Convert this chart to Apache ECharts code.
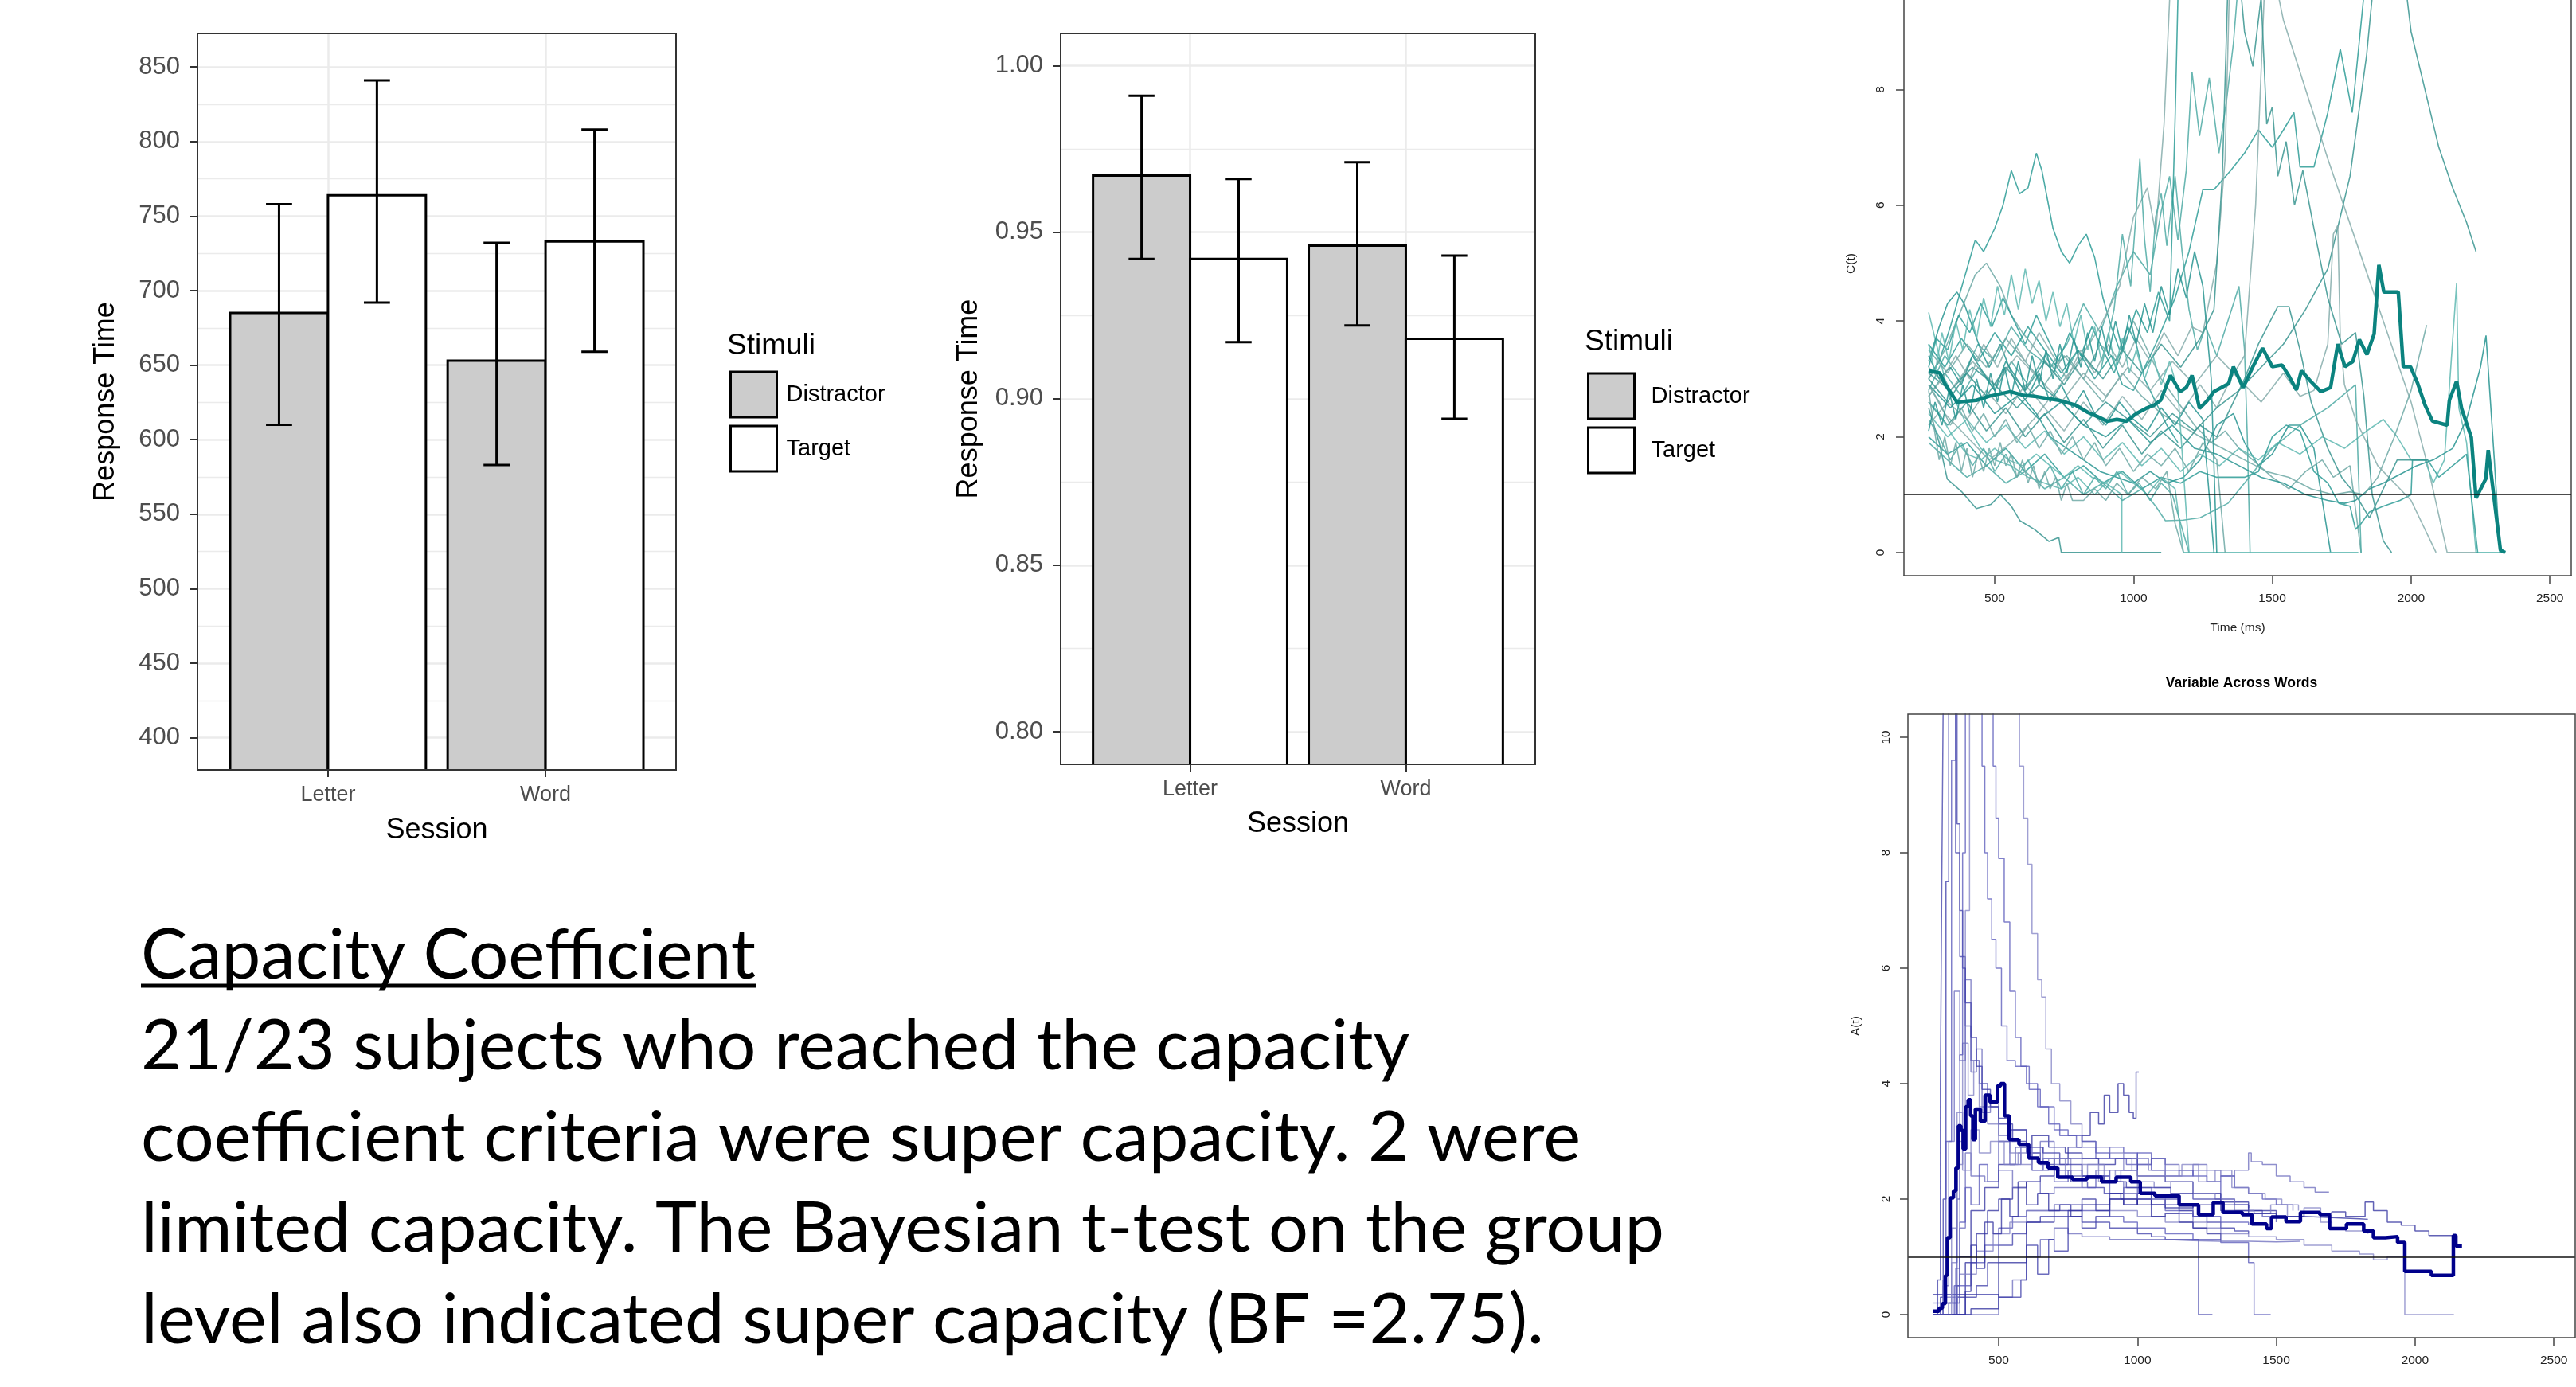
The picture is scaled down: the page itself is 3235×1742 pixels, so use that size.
<!DOCTYPE html>
<html><head><meta charset="utf-8">
<script src="https://cdn.jsdelivr.net/npm/echarts@6/dist/echarts.min.js"></script>
<style>html,body{margin:0;padding:0;background:#fff;}#c{width:3235px;height:1742px;}</style>
</head><body><div id="c"></div><script>
// ---------------- DATA ----------------
const sessions = ['Letter', 'Word'];
const stimuli = ['Distractor', 'Target'];
// chart 1 (Response Time, ms)
const rtDistractorMean = [685, 653];
const rtDistractorLow = [610, 583];
const rtDistractorHigh = [758, 732];
const rtTargetMean = [764, 733];
const rtTargetLow = [692, 659];
const rtTargetHigh = [841, 808];
const rtTicks = [400, 450, 500, 550, 600, 650, 700, 750, 800, 850];
// chart 2 (Response Time, proportion)
const accDistractorMean = [0.967, 0.946];
const accDistractorLow = [0.942, 0.922];
const accDistractorHigh = [0.991, 0.971];
const accTargetMean = [0.942, 0.918];
const accTargetLow = [0.917, 0.894];
const accTargetHigh = [0.966, 0.943];
const accTicks = [0.80, 0.85, 0.90, 0.95, 1.00];
// line charts
const timeTicks = [500, 1000, 1500, 2000, 2500];
const ratioTicks = [0, 2, 4, 6, 8, 10];
const referenceLevel = 1;

// C(t): group mean and individual subjects
const capMean = [[262,3.14],[302,3.10],[320,2.92],[364,2.60],[434,2.63],[480,2.70],[556,2.78],[600,2.72],[643,2.70],[690,2.66],[731,2.63],[790,2.55],[836,2.42],[870,2.35],[905,2.27],[940,2.30],[975,2.27],[1010,2.40],[1045,2.49],[1075,2.55],[1098,2.63],[1133,3.06],[1168,2.78],[1190,2.85],[1211,3.06],[1238,2.49],[1265,2.62],[1290,2.78],[1343,2.92],[1360,3.21],[1395,2.85],[1430,3.21],[1465,3.53],[1500,3.21],[1535,3.24],[1560,3.05],[1587,2.81],[1605,3.14],[1640,2.95],[1675,2.78],[1710,2.85],[1736,3.60],[1762,3.21],[1790,3.30],[1814,3.68],[1841,3.42],[1867,3.78],[1884,4.97],[1902,4.50],[1954,4.50],[1972,3.21],[1998,3.21],[2024,2.92],[2050,2.55],[2077,2.27],[2130,2.20],[2138,2.63],[2164,2.96],[2182,2.49],[2217,1.99],[2234,0.94],[2269,1.27],[2278,1.77],[2322,0.04],[2339,0]];
const cSubj01 = [[262,3.0],[300,3.3],[340,3.9],[370,4.4],[400,4.9],[430,5.4],[460,5.2],[500,5.6],[530,6.0],[560,6.6],[590,6.2],[620,6.3],[650,6.9],[670,6.6],[690,6.1],[710,5.6],[740,5.2],[770,5.0],[800,5.3],[830,5.5],[860,5.1],[890,4.4],[920,3.9],[950,3.5],[980,3.9],[1010,3.6],[1040,3.0],[1080,2.6],[1120,2.2],[1160,1.9]];
const cSubj02 = [[262,2.8],[320,3.4],[380,3.0],[440,3.6],[500,3.3],[560,3.9],[620,3.5],[700,3.2],[760,3.6],[820,4.3],[880,3.8],[940,4.6],[1000,5.2],[1060,4.8],[1100,5.9],[1130,6.5],[1160,5.4],[1190,6.6],[1211,8.3],[1238,7.2],[1273,8.2],[1308,6.9],[1335,7.8],[1360,8.8],[1390,10.6]];
const cSubj03 = [[262,2.9],[320,2.4],[400,2.0],[480,1.6],[560,1.9],[640,2.3],[720,2.8],[800,3.3],[880,3.9],[950,4.6],[1000,5.8],[1050,6.3],[1080,5.5],[1110,7.4],[1140,10.6]];
const cSubj04 = [[262,2.5],[300,1.9],[329,1.27],[381,1.05],[434,0.76],[486,0.83],[521,1.0],[560,0.8],[591,0.55],[643,0.40],[696,0.19],[731,0.26],[740,0],[1100,0]];
const cSubj05 = [[262,4.15],[290,3.6],[320,3.0],[360,2.6],[400,2.2],[450,1.8],[500,1.6],[560,1.5],[620,1.3],[680,1.2],[740,1.1],[800,1.3],[860,1.0],[900,1.2],[958,1.0],[958,0]];
const cSubj06 = [[262,3.3],[300,3.9],[330,4.3],[364,4.5],[390,4.3],[420,3.9],[450,3.5],[480,3.2],[520,3.6],[560,3.1],[600,2.7],[650,2.4],[700,2.0],[760,1.8],[820,1.6],[880,1.4],[940,1.3],[1000,1.2],[1060,1.4],[1120,1.2],[1180,1.3],[1240,1.6],[1300,2.2],[1360,2.4],[1400,1.9],[1450,1.5],[1500,1.7],[1560,2.2],[1600,2.2],[1650,1.8],[1710,0]];
const cSubj07 = [[262,3.0],[320,3.5],[380,4.2],[430,4.8],[470,5.0],[520,4.6],[560,4.1],[600,3.8],[650,3.5],[700,3.2],[760,3.4],[820,3.0],[880,3.6],[940,3.3],[1000,4.0],[1040,3.6],[1100,3.0],[1160,2.6],[1220,2.2],[1280,1.9],[1330,2.1],[1380,1.8],[1430,1.6],[1500,1.3],[1560,1.1],[1620,1.4],[1680,1.6],[1720,1.3],[1780,1.5],[1820,0]];
const cSubj08 = [[262,3.6],[320,3.2],[380,3.7],[440,3.3],[500,3.8],[560,3.4],[620,3.9],[680,3.5],[740,3.1],[800,3.5],[860,3.0],[920,3.4],[960,2.9],[1000,2.8],[1080,3.6],[1150,4.4],[1200,5.2],[1250,6.27],[1290,6.27],[1350,6.6],[1400,6.9],[1450,7.3],[1500,7.0],[1540,7.3],[1578,7.6],[1600,6.66],[1650,6.66],[1700,7.6],[1745,8.7],[1788,7.6],[1850,10.6]];
const cSubj09 = [[262,2.7],[320,3.1],[380,2.7],[440,3.2],[500,2.8],[560,3.3],[620,2.9],[680,3.4],[740,3.0],[800,3.5],[850,3.2],[880,3.1],[930,4.2],[960,5.5],[990,4.6],[1010,5.9],[1023,6.8],[1040,5.4],[1060,4.5],[1080,5.8],[1100,6.2],[1120,5.3],[1150,6.5],[1175,5.2],[1200,4.2],[1230,3.5],[1260,3.9],[1300,3.4],[1340,4.0],[1380,4.6],[1400,3.5],[1410,2.0],[1420,0]];
const cSubj10 = [[262,2.2],[330,2.6],[400,2.3],[470,2.8],[540,2.4],[610,2.9],[680,2.5],[750,2.1],[820,2.6],[890,2.2],[960,2.7],[1030,2.3],[1100,2.8],[1170,2.4],[1240,2.9],[1300,2.5],[1350,3.0],[1400,3.4],[1440,6.0],[1470,9.5],[1480,10.6],[1540,9.2],[1600,8.3],[1700,6.8],[1800,5.4],[1900,4.0],[2000,2.6],[2060,1.5],[2130,0],[2240,0]];
const cSubj11 = [[262,3.1],[340,2.8],[420,3.2],[500,2.9],[580,2.5],[660,2.9],[740,2.6],[820,2.2],[900,2.6],[980,2.3],[1060,2.0],[1140,2.4],[1220,2.1],[1300,2.5],[1380,2.8],[1460,3.2],[1540,3.6],[1620,4.2],[1700,4.9],[1780,6.5],[1840,8.6],[1880,10.6],[1960,10.6],[2000,9.0],[2050,8.0],[2100,7.0],[2150,6.3],[2200,5.7],[2234,5.2]];
const cSubj12 = [[262,2.4],[330,2.0],[400,2.3],[470,1.9],[540,2.2],[610,1.8],[680,2.1],[750,1.7],[820,2.0],[890,1.6],[960,1.9],[1030,1.5],[1100,1.8],[1170,1.4],[1240,1.7],[1310,1.5],[1380,1.8],[1450,1.6],[1520,1.9],[1600,1.7],[1680,2.0],[1760,1.8],[1840,2.1],[1900,2.3],[1950,2.0],[2000,1.6],[2050,1.6],[2080,1.2],[2120,1.6],[2164,4.65],[2172,2.5],[2200,1.9],[2234,0],[2340,0]];
const cSubj13 = [[262,2.9],[340,2.5],[420,2.9],[500,2.4],[580,2.7],[660,2.3],[740,2.6],[820,2.2],[900,2.0],[980,2.3],[1060,1.9],[1140,2.2],[1220,1.8],[1300,1.7],[1380,1.5],[1460,1.3],[1540,1.2],[1620,1.0],[1700,0.9],[1760,0.85],[1800,0.9],[1850,1.1],[1900,1.2],[1960,1.35],[2020,1.5],[2080,1.6],[2150,1.8],[2200,2.3],[2250,3.2],[2270,3.75],[2300,1.6],[2320,0]];
const cSubj14 = [[262,3.5],[330,3.1],[400,3.6],[470,3.2],[540,3.7],[610,3.3],[680,2.9],[750,3.4],[820,3.0],[890,2.6],[960,3.1],[1030,2.7],[1100,2.4],[1170,2.2],[1240,2.0],[1320,1.8],[1400,1.6],[1480,1.4],[1560,1.3],[1640,1.1],[1720,1.0],[1780,1.05],[1830,1.0],[1880,1.3],[1940,2.0],[2000,2.8],[2056,3.93]];
const cSubj15 = [[262,2.0],[330,1.7],[400,1.9],[470,1.5],[540,1.8],[610,1.4],[680,1.7],[750,1.3],[820,1.5],[890,1.2],[960,1.4],[1030,1.1],[1100,1.3],[1170,1.2],[1240,1.4],[1300,1.3],[1400,1.3],[1450,1.4],[1500,2.0],[1550,2.2],[1600,2.1],[1650,1.4],[1700,1.2],[1740,0.85],[1780,0.8],[1800,0.4],[1820,0.5],[1850,0.7],[1900,0.8],[1960,0.9],[2000,1.0],[2005,1.6],[2060,1.6],[2100,1.3],[2150,1.5],[2200,1.7],[2240,0]];
const cSubj16 = [[262,1.9],[330,1.6],[400,1.3],[470,1.5],[540,1.2],[610,1.4],[680,1.1],[750,1.3],[820,1.0],[890,1.2],[960,0.9],[1030,1.1],[1080,0.8],[1115,0.55],[1180,0.56],[1240,0.6],[1300,0.75],[1340,0.85],[1400,1.2],[1450,1.5],[1500,1.8],[1600,2.2],[1700,2.5],[1800,2.9],[1820,0]];
const cSubj17 = [[262,3.2],[340,2.8],[420,3.3],[500,2.9],[580,3.4],[660,3.0],[740,2.6],[820,3.1],[900,2.7],[980,3.2],[1060,2.8],[1140,3.3],[1220,2.9],[1300,3.4],[1380,3.0],[1460,2.6],[1540,3.1],[1600,2.7],[1650,2.8],[1700,3.6],[1720,5.5],[1736,5.65],[1745,3.7],[1760,2.9],[1800,2.3],[1830,2.0],[1880,1.5],[1940,1.2],[2000,0.9],[2090,0]];
const cSubj18 = [[262,2.6],[330,2.2],[400,2.6],[470,2.1],[540,2.5],[610,2.0],[680,2.4],[750,1.9],[820,2.3],[890,1.8],[960,2.2],[1030,1.7],[1100,2.1],[1170,1.8],[1240,2.2],[1300,2.0],[1350,2.5],[1400,3.0],[1450,3.6],[1520,4.25],[1560,4.25],[1600,3.5],[1640,2.6],[1700,1.8],[1750,1.3],[1800,1.0],[1850,0.6],[1890,1.0],[1950,1.6],[2000,1.6],[2060,1.6]];
const cSubj19 = [[262,2.6],[300,2.4],[350,2.0],[400,1.7],[450,1.6],[500,1.8],[550,1.6],[600,1.5],[650,1.7],[700,1.5],[750,1.3],[800,1.5],[850,1.3],[900,1.2],[950,1.4],[1000,1.2],[1050,1.0],[1100,1.3],[1150,1.1],[1180,0],[1810,0]];
const cSubj20 = [[262,3.4],[300,3.0],[340,3.2],[380,2.9],[420,3.4],[460,3.1],[500,2.8],[540,3.3],[580,3.0],[620,2.7],[660,3.1],[700,2.6],[740,2.9],[780,2.5],[820,2.8],[860,2.4],[900,2.2],[950,2.6],[1000,2.3],[1050,2.1],[1100,2.5],[1150,2.2],[1200,2.6],[1250,2.3],[1290,0]];
const cSubj21 = [[262,2.9],[300,2.6],[340,2.2],[380,2.5],[420,2.1],[460,2.4],[500,2.0],[540,2.3],[580,1.9],[620,2.2],[660,1.8],[700,2.1],[740,1.7],[780,2.0],[820,1.6],[860,1.9],[900,1.5],[950,1.8],[1000,1.4],[1050,1.7],[1100,1.5],[1150,1.8],[1200,1.4],[1250,1.9],[1300,1.6],[1330,0]];
const cSubj22 = [[262,3.2],[290,3.7],[330,3.5],[370,4.1],[410,3.8],[450,4.3],[490,3.9],[530,4.4],[570,4.0],[610,3.6],[650,4.1],[690,3.7],[730,3.3],[770,3.8],[810,3.4],[850,3.9],[890,3.5],[930,3.1],[970,3.6],[1010,4.2],[1050,3.8],[1090,4.5],[1130,4.0],[1150,7.5],[1165,10.6]];
const cSubj23 = [[262,2.3],[300,2.0],[340,1.6],[380,1.9],[420,1.5],[460,1.8],[500,1.4],[540,1.7],[580,1.3],[620,1.6],[660,1.2],[700,1.5],[740,1.1],[780,1.4],[820,1.0],[860,1.3],[900,1.1],[940,1.4],[980,1.0],[1020,1.2],[1060,0.9],[1100,1.2],[1140,1.0],[1200,0]];
const cSubj24 = [[262,2.7],[310,3.0],[360,3.4],[410,3.0],[460,3.6],[510,3.2],[560,3.7],[610,3.3],[660,3.8],[710,3.4],[760,3.0],[810,3.5],[860,3.1],[910,3.6],[960,3.2],[1010,3.7],[1060,3.3],[1110,3.8],[1160,3.4],[1210,3.9],[1250,3.8],[1300,5.0],[1330,6.8],[1350,10.6]];
const cSubj25 = [[262,3.0],[330,2.6],[400,3.1],[470,2.7],[540,3.2],[610,2.8],[680,3.3],[750,2.9],[820,3.4],[890,3.0],[960,3.5],[1030,3.1],[1100,3.6],[1170,3.2],[1240,3.7],[1290,4.2],[1320,6.5],[1345,10.6],[1370,10.6],[1400,9.0],[1430,8.4],[1460,9.6],[1480,7.4],[1500,7.7],[1520,6.5],[1550,7.1],[1580,6.0],[1610,6.6],[1650,5.6],[1700,4.4],[1750,3.6],[1800,3.8],[1830,2.7],[1860,1.0],[1900,0.2],[1930,0]];
const cSubj26 = [[262,3.6],[285,3.1],[310,3.8],[335,3.3],[360,4.0],[385,3.5],[410,4.2],[435,3.7],[460,4.4],[485,3.9],[510,4.6],[535,4.1],[560,4.8],[585,4.2],[610,4.9],[635,4.3],[660,4.7],[685,4.0],[710,4.5],[735,3.9],[760,4.3],[785,3.6],[810,4.1],[835,3.5],[860,3.9],[885,3.3],[910,3.8],[935,3.2],[960,3.7],[985,3.1],[1010,3.5],[1040,3.0],[1070,3.4],[1100,2.9],[1130,3.3],[1160,2.8],[1200,0]];
const cSubj27 = [[262,2.1],[285,2.6],[310,2.2],[335,2.8],[360,2.3],[385,2.9],[410,2.4],[435,3.0],[460,2.5],[485,3.1],[510,2.6],[535,3.2],[560,2.7],[585,3.3],[610,2.8],[635,3.4],[660,2.9],[685,3.5],[710,3.0],[735,3.6],[760,3.1],[785,3.7],[810,3.2],[835,3.8],[860,3.3],[885,3.9],[910,3.4],[935,4.0],[960,3.5],[985,4.1],[1010,3.6],[1040,4.3],[1070,3.8],[1100,4.6],[1130,4.1],[1160,4.9],[1190,4.4],[1220,5.2],[1250,4.6],[1280,3.0],[1300,0]];
const cSubj28 = [[262,2.8],[280,2.2],[300,1.6],[320,2.0],[340,1.5],[360,1.9],[380,1.4],[400,1.8],[420,1.3],[440,1.7],[460,1.4],[480,1.8],[500,1.5],[520,1.9],[540,1.5],[560,1.7],[580,1.3],[600,1.6],[620,1.2],[640,1.5],[660,1.1],[680,1.4],[700,1.1],[720,1.3],[740,0.9],[760,1.2],[780,0.9],[820,0.9],[860,1.1],[900,0.9],[940,1.2],[980,1.0],[1030,1.3],[1080,1.1],[1120,1.4],[1150,0.5],[1180,0]];

// A(t): group mean and individual subjects
const assessMean = [[264,0.06],[285,0.11],[297,0.19],[308,0.68],[315,1.33],[325,2.02],[337,2.14],[346,2.54],[355,3.27],[364,3.19],[372,2.87],[381,3.60],[390,3.72],[399,3.44],[407,3.03],[416,3.56],[434,3.35],[451,3.80],[469,3.68],[495,3.96],[507,4.00],[521,3.44],[538,3.03],[573,2.95],[608,2.71],[643,2.63],[678,2.54],[713,2.38],[766,2.34],[818,2.38],[871,2.30],[923,2.38],[976,2.30],[1002,2.30],[1010,2.10],[1063,2.06],[1150,1.90],[1220,1.73],[1273,1.94],[1308,1.77],[1378,1.73],[1412,1.57],[1465,1.49],[1483,1.69],[1535,1.61],[1587,1.77],[1657,1.73],[1692,1.49],[1753,1.57],[1815,1.45],[1850,1.33],[1893,1.35],[1937,1.25],[1963,1.25],[1963,0.75],[2059,0.75],[2059,0.68],[2138,0.68],[2138,1.37],[2147,1.19],[2169,1.19]];
const aSubj01 = [[262,0],[290,0.3],[300,2.0],[310,7.5],[320,10.6],[330,10.6],[345,8.0],[360,6.2],[380,5.0],[400,4.4],[430,4.0],[460,3.6],[500,3.3],[550,3.0],[600,2.8],[650,2.6],[700,2.5],[760,2.3],[820,2.2],[880,2.1],[940,2.0],[1000,1.9]];
const aSubj02 = [[262,0],[300,0.6],[310,3.0],[330,9.6],[345,10.6],[430,10.6],[440,9.5],[450,8.0],[460,7.2],[475,6.5],[490,6.0],[510,5.0],[530,4.4],[560,4.3],[600,4.0],[640,3.6],[680,3.3],[720,3.1],[780,2.9],[850,2.7],[900,2.9],[950,2.8],[1000,2.6],[1050,2.7],[1100,2.5],[1150,2.4],[1200,2.5],[1250,2.3],[1300,2.0],[1350,1.9],[1400,1.8],[1450,1.7],[1500,1.6]];
const aSubj03 = [[262,0],[330,0],[345,0.8],[360,3.0],[380,7.0],[395,10.6],[560,10.6],[575,9.5],[590,8.6],[605,7.8],[620,6.6],[640,5.8],[655,5.5],[670,4.6],[690,4.0],[720,3.7],[760,3.3],[800,3.0],[850,2.9],[900,2.8],[950,2.5],[1000,2.2],[1050,2.0],[1100,1.9],[1150,1.8],[1200,1.6],[1250,1.5]];
const aSubj04 = [[262,0],[320,0],[350,0.3],[380,0.9],[420,1.4],[460,1.8],[500,2.0],[550,2.2],[600,2.3],[650,2.4],[700,2.7],[750,2.9],[800,3.1],[830,3.5],[860,3.3],[880,3.8],[900,3.5],[930,4.0],[950,3.8],[970,3.5],[985,3.4],[995,4.2],[1005,4.2]];
const aSubj05 = [[262,0],[340,0],[360,1.5],[380,2.8],[400,2.4],[450,2.3],[500,2.5],[550,2.2],[600,2.3],[650,2.1],[700,2.2],[800,2.4],[900,2.5],[1000,2.6],[1050,2.7],[1100,2.6],[1150,2.5],[1200,2.6],[1250,2.5],[1300,2.4],[1350,2.5],[1400,2.8],[1410,2.65],[1450,2.6],[1500,2.4],[1550,2.3],[1600,2.2],[1640,2.12],[1690,2.12]];
const aSubj06 = [[262,0],[360,0],[380,0.3],[420,0.5],[460,0.9],[500,1.2],[550,1.4],[600,1.6],[650,1.7],[700,1.7],[800,1.6],[900,1.5],[1000,1.4],[1050,1.35],[1100,1.3],[1150,1.3],[1220,1.3],[1220,0],[1270,0]];
const aSubj07 = [[262,0],[300,0.2],[350,0.5],[400,0.9],[450,1.2],[500,1.5],[550,1.7],[600,1.8],[700,1.9],[800,1.8],[900,1.7],[950,1.6],[1000,1.5],[1100,1.4],[1200,1.3],[1300,1.25],[1380,1.25],[1400,0.9],[1420,0.9],[1420,0],[1480,0]];
const aSubj08 = [[262,0],[300,0.3],[360,0.7],[420,1.1],[480,1.4],[540,1.6],[600,1.8],[700,1.9],[800,1.9],[900,1.8],[1000,1.7],[1100,1.6],[1200,1.5],[1300,1.4],[1400,1.35],[1500,1.3],[1600,1.2],[1700,1.1],[1800,1.05],[1850,0.95],[1900,1.0],[1963,1.0],[1963,0],[2140,0]];
const aSubj09 = [[262,0],[320,0.2],[360,1.0],[400,1.8],[450,2.2],[500,2.6],[560,2.9],[620,3.1],[680,2.9],[740,2.8],[800,2.7],[860,2.6],[920,2.7],[1000,2.4],[1100,2.3],[1200,2.1],[1300,1.95],[1400,1.8],[1500,1.7],[1600,1.75],[1700,1.78],[1750,1.7],[1820,1.95],[1850,1.8],[1900,1.6],[1950,1.55],[2000,1.45],[2050,1.37],[2140,1.37]];
const aSubj10 = [[262,0],[400,0],[500,0.3],[550,0.6],[600,1.0],[650,1.3],[700,1.5],[750,1.4],[800,1.35],[900,1.3],[1000,1.3],[1100,1.28],[1200,1.27],[1300,1.27],[1400,1.26],[1500,1.27],[1585,1.27]];
const aSubj11 = [[262,0.35],[300,0.35],[400,0.35],[450,0.35],[500,0.3],[530,0.3],[580,0.6],[600,1.2],[640,0.7],[680,1.3],[700,1.1],[750,1.8],[800,1.5],[850,1.7],[900,2.0],[950,1.9],[1000,2.1],[1050,1.9],[1100,2.0],[1150,1.8],[1200,1.7],[1250,1.6],[1300,1.5],[1350,1.45],[1400,1.4]];
const aSubj12 = [[262,0],[320,0],[340,0.5],[360,1.6],[380,2.2],[400,1.9],[430,2.6],[460,2.3],[500,3.0],[540,2.6],[580,2.9],[620,2.5],[660,2.7],[700,2.3],[750,2.5],[800,2.2],[850,2.4],[900,2.1],[950,2.2],[1000,2.0],[1050,1.9],[1100,1.8],[1150,1.75],[1200,1.7],[1300,1.6],[1400,1.55]];
const aSubj13 = [[262,0.2],[300,0.2],[330,0.9],[350,2.6],[370,4.7],[390,3.8],[410,4.4],[430,3.6],[460,3.3],[500,3.1],[540,2.8],[580,2.6],[620,2.9],[660,2.5],[700,2.7],[760,2.4],[820,2.6],[880,2.3],[940,2.5],[1000,2.3],[1060,2.2],[1120,2.3],[1200,2.1],[1280,2.0],[1350,1.8],[1420,1.75],[1480,1.9],[1540,1.7],[1600,1.85],[1660,1.6],[1700,1.5],[1750,1.45],[1830,1.4]];
const aSubj14 = [[262,0],[350,0],[380,0.4],[400,1.2],[420,0.8],[450,1.6],[480,1.4],[510,2.0],[540,1.7],[570,2.3],[600,1.9],[640,2.1],[680,1.8],[720,1.9],[760,1.7],[800,2.0],[850,1.8],[900,2.1],[950,1.9],[1000,2.0],[1050,1.7],[1100,1.75],[1150,1.6],[1200,1.5],[1250,1.4],[1300,1.3]];
const aSubj15 = [[262,0],[300,0.5],[320,3.0],[340,5.6],[360,4.4],[380,5.8],[400,4.2],[420,4.6],[440,3.5],[470,3.7],[500,3.0],[550,3.2],[600,2.8],[650,3.0],[700,2.6],[750,2.7],[800,2.4],[850,2.5],[900,2.3],[950,2.1],[1000,2.0],[1100,1.9],[1200,1.8]];
const aSubj16 = [[262,0],[280,0.6],[290,4.0],[295,7.5],[300,10.6],[340,10.6],[350,8.5],[360,7.0],[370,6.0],[380,5.4],[400,4.8],[420,4.3],[440,3.9],[470,3.6],[500,3.4],[540,3.2],[600,2.9],[660,2.8],[720,2.6],[800,2.4],[880,2.3],[960,2.2],[1040,2.2],[1120,2.1],[1200,2.0],[1300,1.9],[1400,1.85]];
const aSubj17 = [[262,0],[330,0],[350,2.0],[360,4.5],[370,8.0],[380,10.6],[470,10.6],[480,9.5],[490,8.6],[500,7.9],[520,6.8],[540,5.6],[560,4.8],[580,4.3],[610,3.9],[650,3.6],[700,3.2],[750,3.1],[800,3.0],[850,2.8],[900,2.7],[960,2.6],[1000,2.8],[1050,2.5],[1100,2.4],[1150,2.5],[1200,2.4],[1250,2.3],[1300,2.4],[1350,2.2],[1400,2.1],[1450,2.0],[1500,1.9],[1560,1.8]];
const aSubj18 = [[262,0],[310,0],[330,1.5],[350,3.5],[370,2.5],[400,3.2],[430,2.8],[470,3.0],[520,2.6],[570,2.8],[620,2.5],[680,2.7],[740,2.4],[800,2.6],[860,2.3],[920,2.5],[980,2.7],[1040,2.5],[1100,2.4],[1160,2.6],[1220,2.3],[1280,2.5],[1340,2.2],[1400,2.1],[1460,2.0],[1520,1.9],[1580,1.8]];
const aSubj19 = [[262,0],[400,0.1],[500,0.9],[600,1.6],[700,1.8],[800,1.9],[900,2.0],[1000,1.9],[1100,1.85],[1200,1.9],[1300,1.8],[1400,1.75],[1500,1.7],[1600,1.68],[1700,1.66],[1800,1.65],[1830,1.65]];

const paragraphTitle = 'Capacity Coefficient';
const paragraphLines = [
  '21/23 subjects who reached the capacity',
  'coefficient criteria were super capacity. 2 were',
  'limited capacity. The Bayesian t-test on the group',
  'level also indicated super capacity (BF =2.75).'
];

// ---------------- LAYOUT / STYLE ----------------
const FONT = "'Liberation Sans', Arial, sans-serif";
const TICK_GREY = '#4D4D4D';
const GRID_GREY = '#EBEBEB';
const FRAME = '#444';
const RT_RANGE = [378.5, 872.5];
const ACC_RANGE = [0.7902, 1.0097];
const X_RANGE = [0.4, 2.6];
const TIME_RANGE = [173, 2577];
const RATIO_RANGE_TOP = [-0.4, 9.546];   // upper part of this panel is cropped by the slide edge
const RATIO_RANGE = [-0.4, 10.4];
const DODGE = 0.225, CAP = 0.06;

const capacitySubjects = [cSubj01,cSubj02,cSubj03,cSubj04,cSubj05,cSubj06,cSubj07,cSubj08,cSubj09,cSubj10,cSubj11,cSubj12,cSubj13,cSubj14,cSubj15,cSubj16,cSubj17,cSubj18,cSubj19,cSubj20,cSubj21,cSubj22,cSubj23,cSubj24,cSubj25,cSubj26,cSubj27,cSubj28];
const assessSubjects = [aSubj01,aSubj02,aSubj03,aSubj04,aSubj05,aSubj06,aSubj07,aSubj08,aSubj09,aSubj10,aSubj11,aSubj12,aSubj13,aSubj14,aSubj15,aSubj16,aSubj17,aSubj18,aSubj19];
const tealShades = ['#2E9C97','#4FAAA5','#86ADAB','#3A9591','#5FB8B2','#279490','#6FA9A6'];
const navyShades = ['#3C3CA8','#5656B8','#8080C4','#2E2E9E','#6A6ABC'];

const minorOf = ticks => ticks.slice(0, -1).map((t, i) => +((t + ticks[i + 1]) / 2).toFixed(4));

function barX(gi, nameGap) {
  return {gridIndex: gi, type: 'value', min: X_RANGE[0], max: X_RANGE[1],
    axisLine: {show: false, onZero: false},
    axisTick: {show: true, customValues: [1, 2], length: 9, lineStyle: {color: '#333', width: 2}},
    axisLabel: {customValues: [1, 2], formatter: v => sessions[Math.round(v) - 1], fontSize: 27, color: TICK_GREY, margin: 18, fontFamily: FONT},
    splitLine: {show: true, lineStyle: {color: GRID_GREY, width: 2.5}},
    name: 'Session', nameLocation: 'middle', nameGap, nameTextStyle: {fontSize: 36, color: '#000', fontFamily: FONT}};
}
function barY(gi, range, ticks, fmt, nameGap) {
  return {gridIndex: gi, type: 'value', min: range[0], max: range[1],
    axisLine: {show: false, onZero: false},
    axisTick: {show: true, customValues: ticks, length: 9, lineStyle: {color: '#333', width: 2}},
    axisLabel: {customValues: ticks, formatter: fmt, fontSize: 31, color: TICK_GREY, margin: 22, fontFamily: FONT},
    splitLine: {show: true, lineStyle: {color: GRID_GREY, width: 2.5}},
    name: 'Response Time', nameLocation: 'middle', nameGap, nameTextStyle: {fontSize: 36, color: '#000', fontFamily: FONT}};
}
function barYMinor(gi, range, ticks) {
  const m = minorOf(ticks);
  return {gridIndex: gi, type: 'value', min: range[0], max: range[1], position: 'left',
    axisLine: {show: false, onZero: false}, axisTick: {show: false, customValues: m}, axisLabel: {show: false, customValues: m},
    splitLine: {show: true, lineStyle: {color: GRID_GREY, width: 1.3}}};
}
function bars(name, means, offset, fill, xIdx, yIdx, range) {
  return {type: 'custom', name, xAxisIndex: xIdx, yAxisIndex: yIdx, itemStyle: {color: fill},
    data: means.map((m, i) => [i + 1, m]), silent: true, z: 2,
    renderItem: (params, api) => {
      const c = api.value(0) + offset;
      const tl = api.coord([c - DODGE, api.value(1)]);
      const br = api.coord([c + DODGE, range[0]]);
      return {type: 'group', children: [
        {type: 'rect', shape: {x: tl[0], y: tl[1], width: br[0] - tl[0], height: br[1] - tl[1]}, style: {fill: api.visual('color')}},
        {type: 'polyline', shape: {points: [[tl[0], br[1]], [tl[0], tl[1]], [br[0], tl[1]], [br[0], br[1]]]}, style: {stroke: '#000', lineWidth: 3, fill: null}}
      ]};
    }};
}
function errBars(name, lows, highs, offset, xIdx, yIdx) {
  return {type: 'custom', name, xAxisIndex: xIdx, yAxisIndex: yIdx,
    data: lows.map((l, i) => [i + 1, l, highs[i]]), silent: true, z: 3,
    renderItem: (params, api) => {
      const c = api.value(0) + offset;
      const lo = api.coord([c, api.value(1)]), hi = api.coord([c, api.value(2)]);
      const l0 = api.coord([c - CAP, api.value(1)])[0], l1 = api.coord([c + CAP, api.value(1)])[0];
      const st = {stroke: '#000', lineWidth: 3};
      return {type: 'group', children: [
        {type: 'line', shape: {x1: lo[0], y1: lo[1], x2: hi[0], y2: hi[1]}, style: st},
        {type: 'line', shape: {x1: l0, y1: lo[1], x2: l1, y2: lo[1]}, style: st},
        {type: 'line', shape: {x1: l0, y1: hi[1], x2: l1, y2: hi[1]}, style: st}
      ]};
    }};
}
function timeX(gi, name, nameGap, margin, showLine) {
  return {gridIndex: gi, type: 'value', min: TIME_RANGE[0], max: TIME_RANGE[1],
    axisLine: {show: showLine, onZero: false, lineStyle: {color: FRAME, width: 1.5}},
    axisTick: {show: true, customValues: timeTicks, length: 10, lineStyle: {color: FRAME, width: 1.5}},
    axisLabel: {customValues: timeTicks, formatter: v => String(v), fontSize: 15.5, color: '#222', margin, fontFamily: FONT},
    splitLine: {show: false},
    name, nameLocation: 'middle', nameGap, nameTextStyle: {fontSize: 15.5, color: '#222', fontFamily: FONT}};
}
function ratioY(gi, range, name, nameGap, margin, showLine) {
  return {gridIndex: gi, type: 'value', min: range[0], max: range[1],
    axisLine: {show: showLine, onZero: false, lineStyle: {color: FRAME, width: 1.5}},
    axisTick: {show: true, customValues: ratioTicks, length: 10, lineStyle: {color: FRAME, width: 1.5}},
    axisLabel: {customValues: ratioTicks, formatter: v => String(v), rotate: 90, fontSize: 15.5, color: '#222', margin, fontFamily: FONT},
    splitLine: {show: false},
    name, nameLocation: 'middle', nameGap, nameTextStyle: {fontSize: 15.5, color: '#222', fontFamily: FONT}};
}
function refLine() {
  return {silent: true, symbol: 'none', label: {show: false}, lineStyle: {color: '#111', width: 1.5, type: 'solid'}, data: [{yAxis: referenceLevel}]};
}

// axis indices: y 0/1 chart1 major/minor, 2/3 chart2 major/minor, 4 C(t), 5 A(t), 6 C(t) right frame
const series = [
  bars('Distractor', rtDistractorMean, -DODGE, '#CCCCCC', 0, 0, RT_RANGE),
  bars('Target', rtTargetMean, DODGE, '#FFFFFF', 0, 0, RT_RANGE),
  errBars('Distractor interval', rtDistractorLow, rtDistractorHigh, -DODGE, 0, 0),
  errBars('Target interval', rtTargetLow, rtTargetHigh, DODGE, 0, 0),
  bars('Distractor', accDistractorMean, -DODGE, '#CCCCCC', 1, 2, ACC_RANGE),
  bars('Target', accTargetMean, DODGE, '#FFFFFF', 1, 2, ACC_RANGE),
  errBars('Distractor interval', accDistractorLow, accDistractorHigh, -DODGE, 1, 2),
  errBars('Target interval', accTargetLow, accTargetHigh, DODGE, 1, 2)
];
capacitySubjects.forEach((d, i) => series.push({type: 'line', name: 'C subject ' + (i + 1), xAxisIndex: 2, yAxisIndex: 4, data: d,
  showSymbol: false, symbol: 'none', silent: true, z: 2, lineStyle: {color: tealShades[i % tealShades.length], width: 1.6, opacity: 0.85}}));
series.push({type: 'line', name: 'C mean', xAxisIndex: 2, yAxisIndex: 4, data: capMean, showSymbol: false, symbol: 'none', silent: true, z: 3,
  lineStyle: {color: '#0B837F', width: 4.5}, markLine: refLine()});
assessSubjects.forEach((d, i) => series.push({type: 'line', name: 'A subject ' + (i + 1), xAxisIndex: 3, yAxisIndex: 5, data: d, step: 'end',
  showSymbol: false, symbol: 'none', silent: true, z: 2, lineStyle: {color: navyShades[i % navyShades.length], width: 1.5, opacity: 0.75}}));
series.push({type: 'line', name: 'A mean', xAxisIndex: 3, yAxisIndex: 5, data: assessMean, step: 'end', showSymbol: false, symbol: 'none', silent: true, z: 3,
  lineStyle: {color: '#00008B', width: 4.5}, markLine: refLine()});

// paragraph text fitted to reference widths
const PARA_FONT_SIZE = 88, PARA_FAMILY = 'Lato';
const mctx = document.createElement('canvas').getContext('2d');
mctx.font = PARA_FONT_SIZE + 'px ' + PARA_FAMILY;
const paraLeft = 177;
const paraTitleBaseline = 1229.5, paraTitleWidth = 772;
const paraBaselines = [1343, 1458.5, 1572, 1687.5];
const paraWidths = [1593, 1808, 1913, 1762];
const MID_TO_BASE = 0.3225 * PARA_FONT_SIZE;
function paraText(str, baseline, width) {
  const w = mctx.measureText(str).width;
  return {type: 'text', x: paraLeft, y: baseline - MID_TO_BASE, scaleX: width / w, originX: 0, originY: 0, silent: true,
    style: {text: str, fontSize: PARA_FONT_SIZE, fontFamily: PARA_FAMILY, fill: '#000', align: 'left', verticalAlign: 'middle'}};
}
const graphics = [
  {type: 'text', x: 913, y: 435, silent: true, style: {text: 'Stimuli', fontSize: 37, fontFamily: FONT, fill: '#000', align: 'left', verticalAlign: 'middle'}},
  {type: 'text', x: 1990, y: 430, silent: true, style: {text: 'Stimuli', fontSize: 37, fontFamily: FONT, fill: '#000', align: 'left', verticalAlign: 'middle'}},
  {type: 'text', x: 2815, y: 858, silent: true, style: {text: 'Variable Across Words', fontSize: 17.5, fontWeight: 'bold', fontFamily: FONT, fill: '#000', align: 'center', verticalAlign: 'middle'}},
  {type: 'text', x: 2325, y: 331, rotation: Math.PI / 2, silent: true, style: {text: 'C(t)', fontSize: 15.5, fontFamily: FONT, fill: '#222', align: 'center', verticalAlign: 'middle'}},
  paraText(paragraphTitle, paraTitleBaseline, paraTitleWidth),
  {type: 'line', silent: true, shape: {x1: paraLeft, y1: 1238, x2: paraLeft + paraTitleWidth, y2: 1238}, style: {stroke: '#000', lineWidth: 5}},
  ...paragraphLines.map((s, i) => paraText(s, paraBaselines[i], paraWidths[i]))
];

const legendBase = {data: stimuli, orient: 'vertical', itemWidth: 58, itemHeight: 57, itemGap: 8, icon: 'rect', selectedMode: false, padding: 0,
  itemStyle: {borderColor: '#000', borderWidth: 3}};

const option = {
  animation: false,
  backgroundColor: '#FFFFFF',
  grid: [
    {left: 248, top: 42, width: 601, height: 925, show: true, borderColor: '#333', borderWidth: 2, backgroundColor: 'rgba(0,0,0,0)', z: 10},
    {left: 1332, top: 42, width: 596, height: 918, show: true, borderColor: '#333', borderWidth: 2, backgroundColor: 'rgba(0,0,0,0)', z: 10},
    {left: 2391, top: 0, width: 838, height: 723, show: false},
    {left: 2396, top: 897, width: 838, height: 783, show: true, borderColor: FRAME, borderWidth: 1.5, backgroundColor: 'rgba(0,0,0,0)', z: 10}
  ],
  xAxis: [barX(0, 58), barX(1, 57), timeX(2, 'Time (ms)', 58, 21, true), timeX(3, '', 58, 21, false)],
  yAxis: [
    barY(0, RT_RANGE, rtTicks, v => String(v), 97), barYMinor(0, RT_RANGE, rtTicks),
    barY(1, ACC_RANGE, accTicks, v => v.toFixed(2), 97), barYMinor(1, ACC_RANGE, accTicks),
    ratioY(2, RATIO_RANGE_TOP, '', 58, 21, true), ratioY(3, RATIO_RANGE, 'A(t)', 57, 19, false),
    {gridIndex: 2, type: 'value', min: RATIO_RANGE_TOP[0], max: RATIO_RANGE_TOP[1], position: 'right',
      axisLine: {show: true, onZero: false, lineStyle: {color: FRAME, width: 1.5}}, axisTick: {show: false}, axisLabel: {show: false}, splitLine: {show: false}}
  ],
  legend: [
    Object.assign({}, legendBase, {left: 916, top: 465.5, textStyle: {fontSize: 29, color: '#000', fontFamily: FONT, padding: [0, 0, 0, 7]}}),
    Object.assign({}, legendBase, {left: 1993, top: 467.5, textStyle: {fontSize: 29, color: '#000', fontFamily: FONT, padding: [0, 0, 0, 16]}})
  ],
  graphic: graphics,
  series
};

const chart = echarts.init(document.getElementById('c'), null, {renderer: 'canvas', width: 3235, height: 1742});
chart.setOption(option);
</script></body></html>
